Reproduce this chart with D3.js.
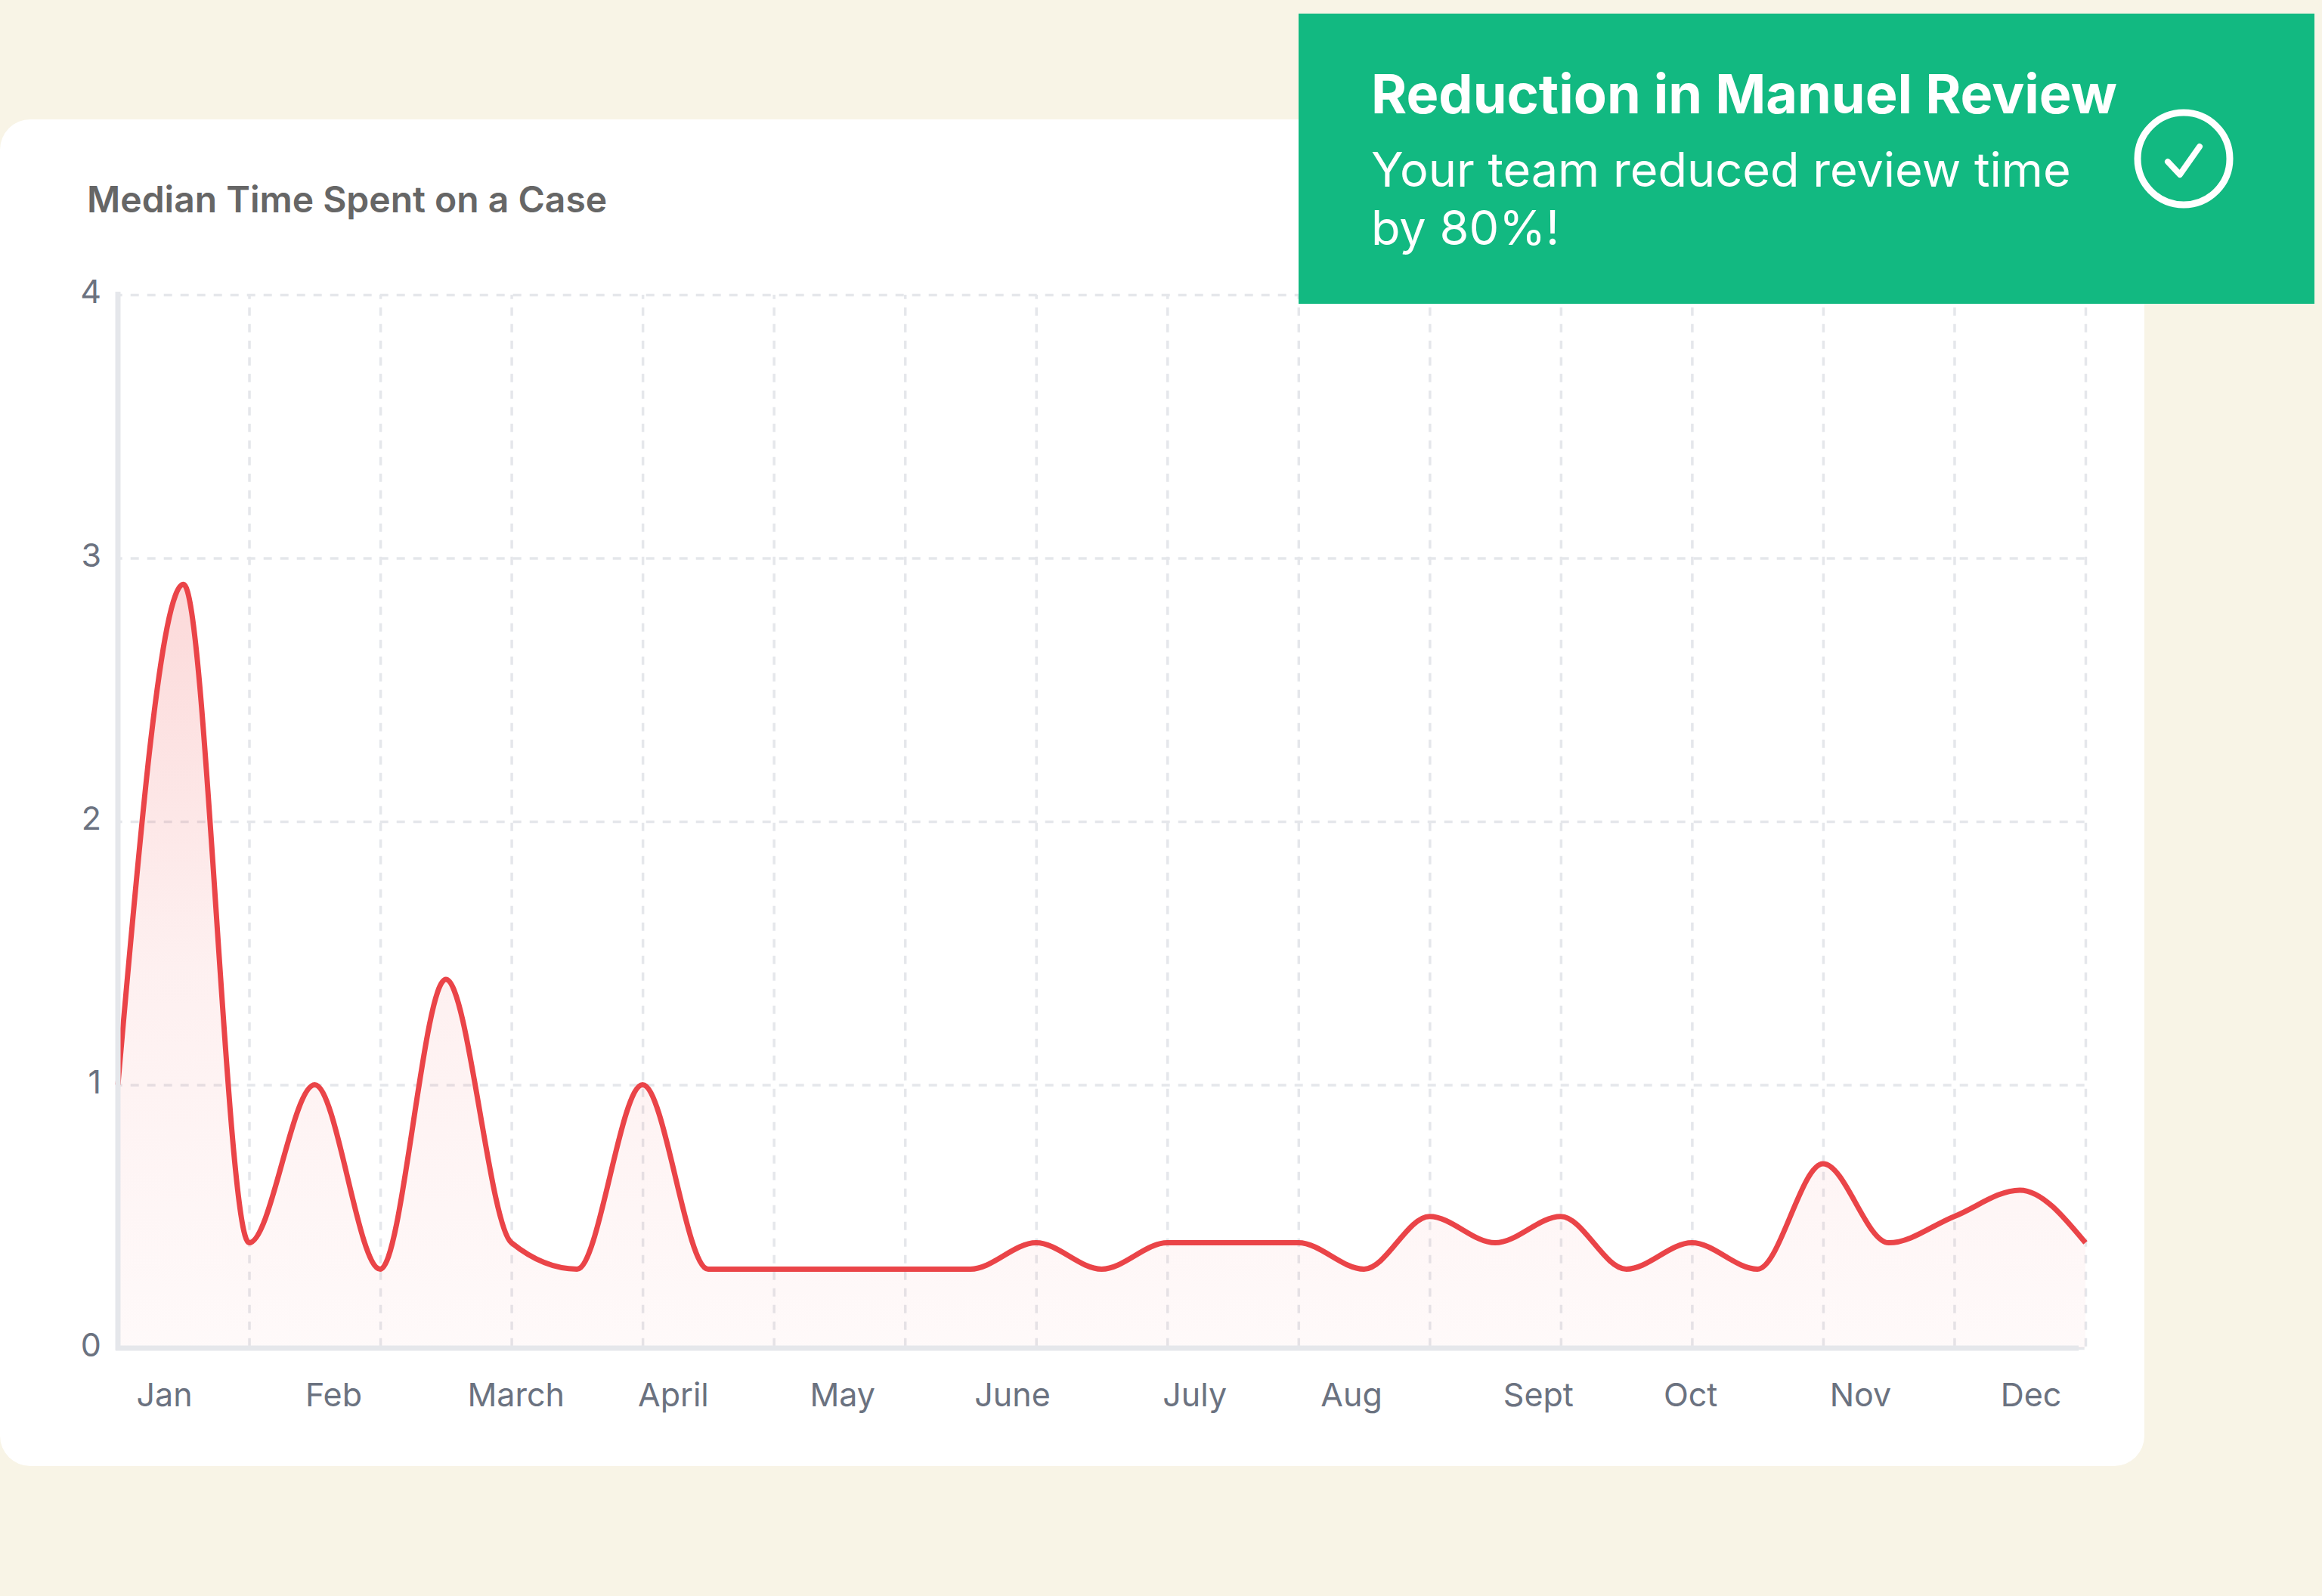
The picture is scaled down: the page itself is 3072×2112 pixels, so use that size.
<!DOCTYPE html>
<html>
<head>
<meta charset="utf-8">
<title>Median Time Spent on a Case</title>
<script src="https://d3js.org/d3.v7.min.js"></script>
<style>
  html, body { margin: 0; padding: 0; background: #f8f4e6; }
  svg { display: block; }
  text { font-family: Inter, "Noto Sans", sans-serif; }
  .tick text { fill: #6b7280; font-size: 43px; }
</style>
</head>
<body>
<div id="chart"></div>
<script>
// half-month steps, two of them per vertical grid line
var medianTime = [1.0, 2.9, 0.4, 1.0, 0.3, 1.4, 0.4, 0.3, 1.0, 0.3, 0.3,
                  0.3, 0.3, 0.3, 0.4, 0.3, 0.4, 0.4, 0.4, 0.3, 0.5, 0.4,
                  0.5, 0.3, 0.4, 0.3, 0.7, 0.4, 0.5, 0.6, 0.4];
var months = ["Jan", "Feb", "March", "April", "May", "June", "July", "Aug", "Sept", "Oct", "Nov", "Dec"];
// where each month label sits, in the same half-month steps (not on the grid)
var monthSteps = [0.71, 3.29, 6.07, 8.47, 11.05, 13.64, 16.42, 18.81, 21.66, 23.98, 26.57, 29.17];
var yTicks = [0, 1, 2, 3, 4];
var chartTitle = "Median Time Spent on a Case";
var bannerTitle = "Reduction in Manuel Review";
var bannerLines = ["Your team reduced review time", "by 80%!"];

var width = 3072, height = 2112;
var left = 156, right = 2759, top_ = 390, bottom = 1784;

var svg = d3.select("#chart").append("svg")
    .attr("width", width)
    .attr("height", height);

// card
svg.append("rect")
    .attr("x", 0).attr("y", 158)
    .attr("width", 2837).attr("height", 1782)
    .attr("rx", 40)
    .attr("fill", "#ffffff");

svg.append("text")
    .attr("x", 115).attr("y", 281)
    .attr("font-size", 48).attr("font-weight", 600)
    .attr("fill", "#666666")
    .text(chartTitle);

var x = d3.scaleLinear().domain([0, medianTime.length - 1]).range([left, right]);
var y = d3.scaleLinear().domain([0, 4]).range([bottom, top_]);

var grad = svg.append("defs").append("linearGradient")
    .attr("id", "fade")
    .attr("gradientUnits", "userSpaceOnUse")
    .attr("x1", 0).attr("x2", 0)
    .attr("y1", y(d3.max(medianTime))).attr("y2", y(0));
grad.append("stop").attr("offset", 0).attr("stop-color", "#ef4444").attr("stop-opacity", 0.2);
grad.append("stop").attr("offset", 0.5).attr("stop-color", "#ef4444").attr("stop-opacity", 0.08);
grad.append("stop").attr("offset", 1).attr("stop-color", "#ef4444").attr("stop-opacity", 0.03);

// grid
var gridY = svg.append("g")
    .attr("transform", "translate(" + left + ",0)")
    .call(d3.axisLeft(y).tickValues(yTicks).tickSize(left - right).tickFormat(""));
var gridX = svg.append("g")
    .attr("transform", "translate(0," + top_ + ")")
    .call(d3.axisBottom(x).tickValues(d3.range(2, medianTime.length, 2)).tickSize(bottom - top_).tickFormat(""));
[gridY, gridX].forEach(function(g) {
    g.select(".domain").remove();
    g.selectAll("line")
        .attr("stroke", "#e5e7eb")
        .attr("stroke-width", 3.5)
        .attr("stroke-dasharray", "11 11")
        .attr("stroke-dashoffset", 5.3);
});

var area = d3.area()
    .x(function(d, i) { return x(i); })
    .y0(y(0))
    .y1(function(d) { return y(d); })
    .curve(d3.curveMonotoneX);
var line = d3.line()
    .x(function(d, i) { return x(i); })
    .y(function(d) { return y(d); })
    .curve(d3.curveMonotoneX);

svg.append("path").datum(medianTime)
    .attr("d", area)
    .attr("fill", "url(#fade)");
svg.append("path").datum(medianTime)
    .attr("d", line)
    .attr("fill", "none")
    .attr("stroke", "#ea4448")
    .attr("stroke-width", 7);

// axis lines sit over the curve
svg.append("line")
    .attr("x1", left).attr("x2", left)
    .attr("y1", top_ - 4).attr("y2", bottom + 3)
    .attr("stroke", "#e5e7eb").attr("stroke-width", 7);
svg.append("line")
    .attr("x1", left - 3).attr("x2", 2750)
    .attr("y1", bottom).attr("y2", bottom)
    .attr("stroke", "#e5e7eb").attr("stroke-width", 7);

// y labels
var yg = svg.append("g")
    .attr("transform", "translate(" + left + ",-3)")
    .call(d3.axisLeft(y).tickValues(yTicks).tickSize(0).tickPadding(22).tickFormat(d3.format("d")));
yg.select(".domain").remove();

// month labels
svg.append("g").attr("class", "tick").selectAll("text")
    .data(months)
    .enter().append("text")
    .attr("x", function(d, i) { return x(monthSteps[i]); })
    .attr("y", 1861)
    .attr("text-anchor", "middle")
    .text(function(d) { return d; });

// banner
svg.append("rect")
    .attr("x", 1718).attr("y", 18)
    .attr("width", 1344).attr("height", 384)
    .attr("fill", "#12b981");
svg.append("text")
    .attr("x", 1814).attr("y", 150)
    .attr("font-size", 72).attr("font-weight", 700)
    .attr("fill", "#ffffff")
    .text(bannerTitle);
svg.selectAll("text.sub")
    .data(bannerLines)
    .enter().append("text")
    .attr("class", "sub")
    .attr("x", 1814)
    .attr("y", function(d, i) { return 247 + i * 77; })
    .attr("font-size", 63)
    .attr("fill", "#ffffff")
    .text(function(d) { return d; });

svg.append("circle")
    .attr("cx", 2889).attr("cy", 210).attr("r", 61)
    .attr("fill", "none")
    .attr("stroke", "#ffffff").attr("stroke-width", 9);
svg.append("path")
    .attr("d", "M2868,214 L2884,231 L2910,194")
    .attr("fill", "none")
    .attr("stroke", "#ffffff").attr("stroke-width", 8)
    .attr("stroke-linecap", "round").attr("stroke-linejoin", "round");
</script>
</body>
</html>
